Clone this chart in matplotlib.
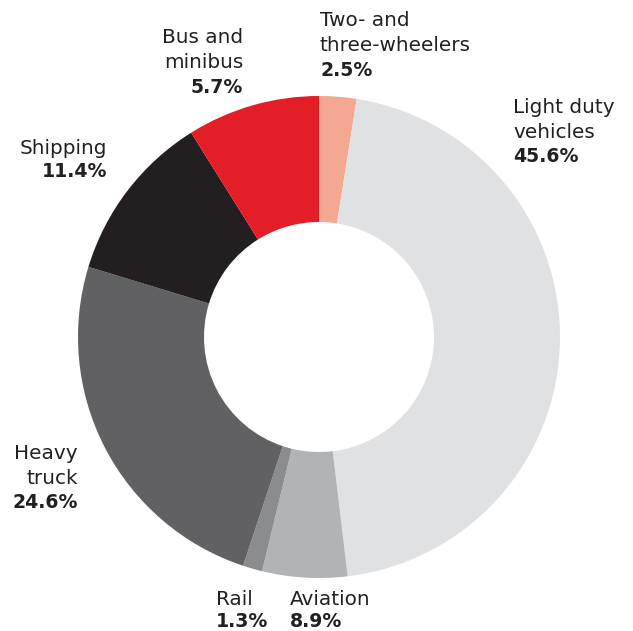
import matplotlib
matplotlib.use("Agg")
import matplotlib.pyplot as plt

# Data (slice sizes as drawn in the reference; printed labels as shown)
categories = ["Two- and\nthree-wheelers", "Light duty\nvehicles", "Aviation", "Rail",
              "Heavy\ntruck", "Shipping", "Bus and\nminibus"]
shares = [2.5, 45.6, 5.7, 1.3, 24.6, 11.4, 8.9]
pct_labels = ["2.5%", "45.6%", "8.9%", "1.3%", "24.6%", "11.4%", "5.7%"]
colors = ["#f5a891", "#e0e1e2", "#b2b3b5", "#8b8c8e", "#616163", "#231f20", "#e31e26"]

W, H = 633, 631
fig = plt.figure(figsize=(W / 100, H / 100), dpi=100)
fig.patch.set_facecolor("white")

cx, cy, R = 319, 337, 241
ax = fig.add_axes([(cx - R) / W, (H - cy - R) / H, 2 * R / W, 2 * R / H])
ax.pie(shares, colors=colors, startangle=90, counterclock=False, radius=1,
       wedgeprops=dict(width=1 - 115 / 241, linewidth=0))
ax.set_xlim(-1, 1)
ax.set_ylim(-1, 1)
ax.axis("off")

txt_color = "#231f20"
family = ["DejaVu Sans"]

# label layout: (anchor x px, first baseline y px, line spacing px, alignment)
layout = [
    (320, 26.5, 24.5, "left"),
    (513, 113, 24.5, "left"),
    (290, 605, 22, "left"),
    (216, 605, 22, "left"),
    (78, 459, 24.5, "right"),
    (107, 154, 23, "right"),
    (243, 43, 25, "right"),
]

for name, pct, (x, y0, dy, ha) in zip(categories, pct_labels, layout):
    lines = name.split("\n")
    for i, ln in enumerate(lines):
        fig.text(x / W, 1 - (y0 + i * dy) / H, ln, ha=ha, va="baseline",
                 fontsize=14.4, color=txt_color, family=family)
    fig.text(x / W, 1 - (y0 + len(lines) * dy) / H, pct, ha=ha, va="baseline",
             fontsize=13.6, color=txt_color, family=family, fontweight="bold")

fig.savefig("out.png", dpi=100, facecolor="white")
